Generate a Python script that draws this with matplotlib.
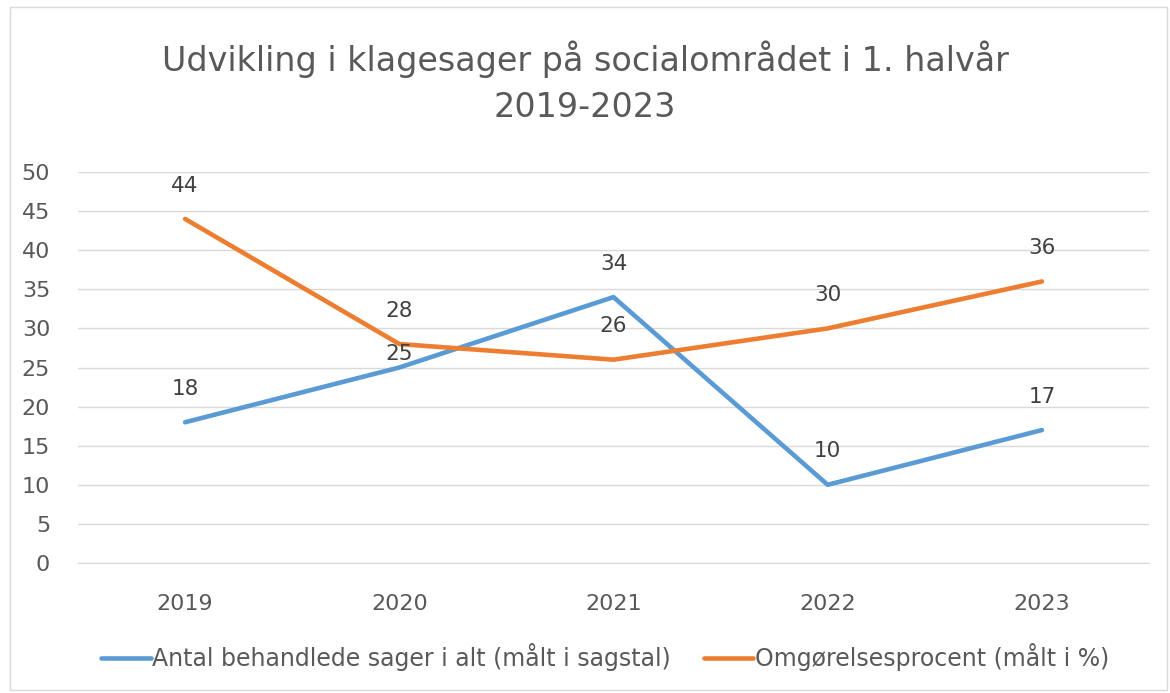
import matplotlib
matplotlib.use("Agg")
import matplotlib.pyplot as plt
from matplotlib.patches import Rectangle

years = ["2019", "2020", "2021", "2022", "2023"]
antal = [18, 25, 34, 10, 17]
omgoer = [44, 28, 26, 30, 36]
series_names = ["Antal behandlede sager i alt (målt i sagstal)",
                "Omgørelsesprocent (målt i %)"]
title = "Udvikling i klagesager på socialområdet i 1. halvår\n2019-2023"

blue = "#5B9BD5"
orange = "#ED7D31"
txt = "#595959"

plt.rcParams['font.family'] = ['DejaVu Sans']

fig = plt.figure(figsize=(11.7, 6.93), dpi=100)
fig.patches.append(Rectangle((10/1170, 3/693), 1157/1170, 683/693, transform=fig.transFigure,
                             fill=False, edgecolor="#D9D9D9", linewidth=1))
ax = fig.add_axes([78/1170, 1 - 563/693, (1149-78)/1170, (563-172)/693])

x = list(range(len(years)))
l1, = ax.plot(x, antal, color=blue, linewidth=3.3, solid_capstyle='round', zorder=3)
l2, = ax.plot(x, omgoer, color=orange, linewidth=3.3, solid_capstyle='round', zorder=3)

for i, v in enumerate(antal):
    off = 10 if i == 1 else 24
    ax.annotate(str(v), (i, v), xytext=(0, off), textcoords="offset points",
                ha="center", va="center", fontsize=15.5, color="#404040")
for i, v in enumerate(omgoer):
    ax.annotate(str(v), (i, v), xytext=(0, 24), textcoords="offset points",
                ha="center", va="center", fontsize=15.5, color="#404040")

ax.set_xlim(-0.5, len(years) - 0.5)
ax.set_ylim(0, 50)
ax.set_yticks(range(0, 51, 5))
ax.set_xticks(x)
ax.set_xticklabels(years)
ax.grid(axis="y", color="#D9D9D9", linewidth=1)
ax.set_axisbelow(True)
for s in ["top", "right", "left"]:
    ax.spines[s].set_visible(False)
ax.spines["bottom"].set_color("#D9D9D9")
ax.tick_params(axis="both", length=0, labelsize=16, labelcolor=txt)
ax.tick_params(axis="y", pad=20)
ax.tick_params(axis="x", pad=22)

fig.text(0.5, 1 - 82/693, title, ha="center", va="center", fontsize=24,
         color=txt, linespacing=1.5)

fig.legend([l1, l2], series_names, loc="center",
           bbox_to_anchor=(0.5 + 20/1170, 1 - 657/693),
           ncol=2, frameon=False, fontsize=17, labelcolor=txt, handlelength=2.1,
           handletextpad=0.05, columnspacing=1.4)

fig.savefig("out.png", dpi=100, facecolor="white")
